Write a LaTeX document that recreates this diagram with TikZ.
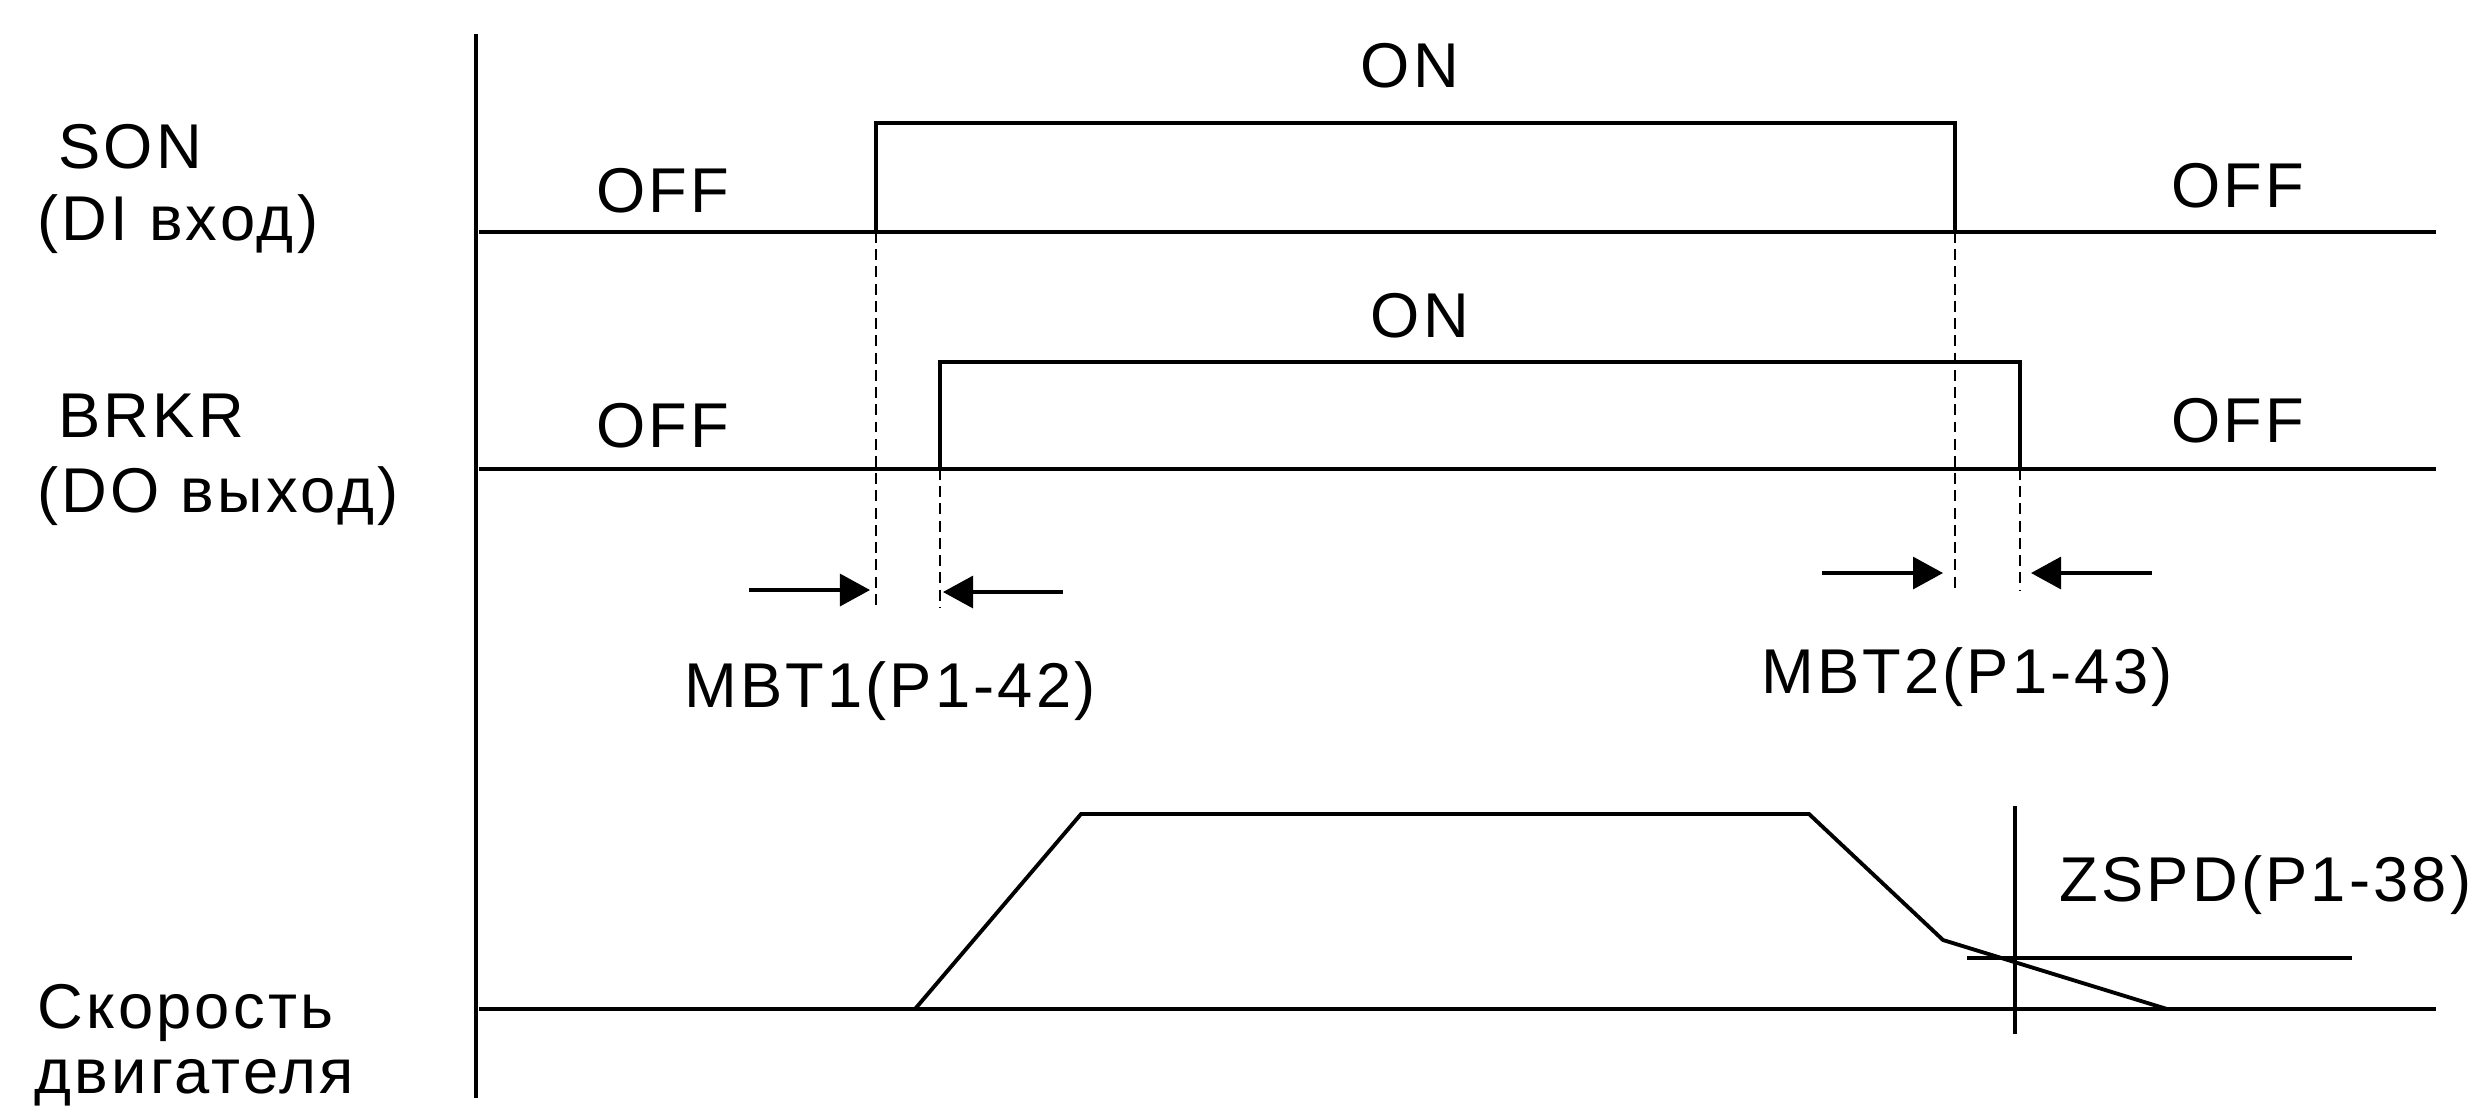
\documentclass[tikz,border=0pt]{standalone}
\usepackage{fontspec}
\setmainfont{Liberation Sans}[LetterSpace=5]
\usetikzlibrary{arrows.meta,positioning}

\begin{document}
\begin{tikzpicture}[x=0.01cm,y=-0.01cm,
  signal/.style={line width=1.1pt,line join=miter},
  trait/.style={line width=0.9pt},
  repere/.style={line width=0.6pt,dash pattern=on 3.1pt off 1.8pt},
  etiq/.style={font=\fontsize{18}{21}\selectfont,inner sep=0pt}]

\tikzset{fleche/.style={-{Triangle[length=0.3cm,width=0.32cm]},line width=0.9pt}}

\useasboundingbox (0,0) rectangle (2483,1111);

% axe
\coordinate (axH) at (476,34);
\coordinate (axB) at (476,1098);
\draw[signal] (axH) -- (axB);

% SON
\coordinate (sonG) at (479,232);
\coordinate (sonD) at (2436,232);
\coordinate (sonM) at (876,232);
\coordinate (sonF) at (1955,232);
\draw[signal] (sonG) -- (sonD);
\draw[signal] (sonM) -- ++(0,-109) -| (sonF);

% BRKR
\coordinate (brkG) at (479,469);
\coordinate (brkD) at (2436,469);
\coordinate (brkM) at (940,469);
\coordinate (brkF) at (2020,469);
\draw[signal] (brkG) -- (brkD);
\draw[signal] (brkM) -- ++(0,-107) -| (brkF);

% vitesse moteur
\coordinate (vG) at (479,1009);
\coordinate (vD) at (2436,1009);
\coordinate (v1) at (915,1009);
\coordinate (v2) at (1081,814);
\coordinate (v3) at (1809,814);
\coordinate (v4) at (1943,940);
\coordinate (v5) at (2167,1009);
\draw[signal] (vG) -- (vD);
\draw[signal] (v1) -- (v2) -- (v3) -- (v4) -- (v5);

% ZSPD
\coordinate (zH) at (2015,806);
\coordinate (zB) at (2015,1034);
\coordinate (zG) at (1967,958);
\coordinate (zD) at (2352,958);
\draw[trait] (zH) -- (zB);
\draw[trait] (zG) -- (zD);

% pointilles
\draw[repere] (sonM) -- (876,607);
\draw[repere] (brkM) -- (940,607);
\draw[repere] (sonF) -- (1955,590);
\draw[repere] (brkF) -- (2020,590);

% fleches MBT1 / MBT2
\coordinate (a1) at (749,590);
\coordinate (b1) at (1063,592);
\coordinate (a2) at (1822,573);
\coordinate (b2) at (2152,573);
\draw[fleche] (a1) -- (870,590);
\draw[fleche] (b1) -- (943,592);
\draw[fleche] (a2) -- (1943,573);
\draw[fleche] (b2) -- (2031,573);

% textes
\node[etiq,anchor=base west] (son) at (37,168) {\ SON};
\node[etiq,anchor=base west] (di) at (37,240) {(DI вход)};
\node[etiq,anchor=base west] (brkr) at (37,437) {\ BRKR};
\node[etiq,anchor=base west] (do) at (37,512) {(DO выход)};
\node[etiq,anchor=base west] (sko) at (37,1028) {Скорость};
\node[etiq,anchor=base west] (dvi) at (34,1093) {двигателя};

\node[etiq,anchor=base] (offA) at (663,212) {OFF};
\node[etiq,anchor=base] (offB) at (663,447) {OFF};
\node[etiq,anchor=base] (offC) at (2238,207) {OFF};
\node[etiq,anchor=base] (offD) at (2238,442) {OFF};
\node[etiq,anchor=base] (onA) at (1410,87) {ON};
\node[etiq,anchor=base] (onB) at (1420,337) {ON};

\node[etiq,anchor=base] (mbt1) at (890,707) {MBT1(P1-42)};
\node[etiq,anchor=base] (mbt2) at (1967,693) {MBT2(P1-43)};
\node[etiq,anchor=base west] (zspd) at (2059,901) {ZSPD(P1-38)};
\end{tikzpicture}
\end{document}
